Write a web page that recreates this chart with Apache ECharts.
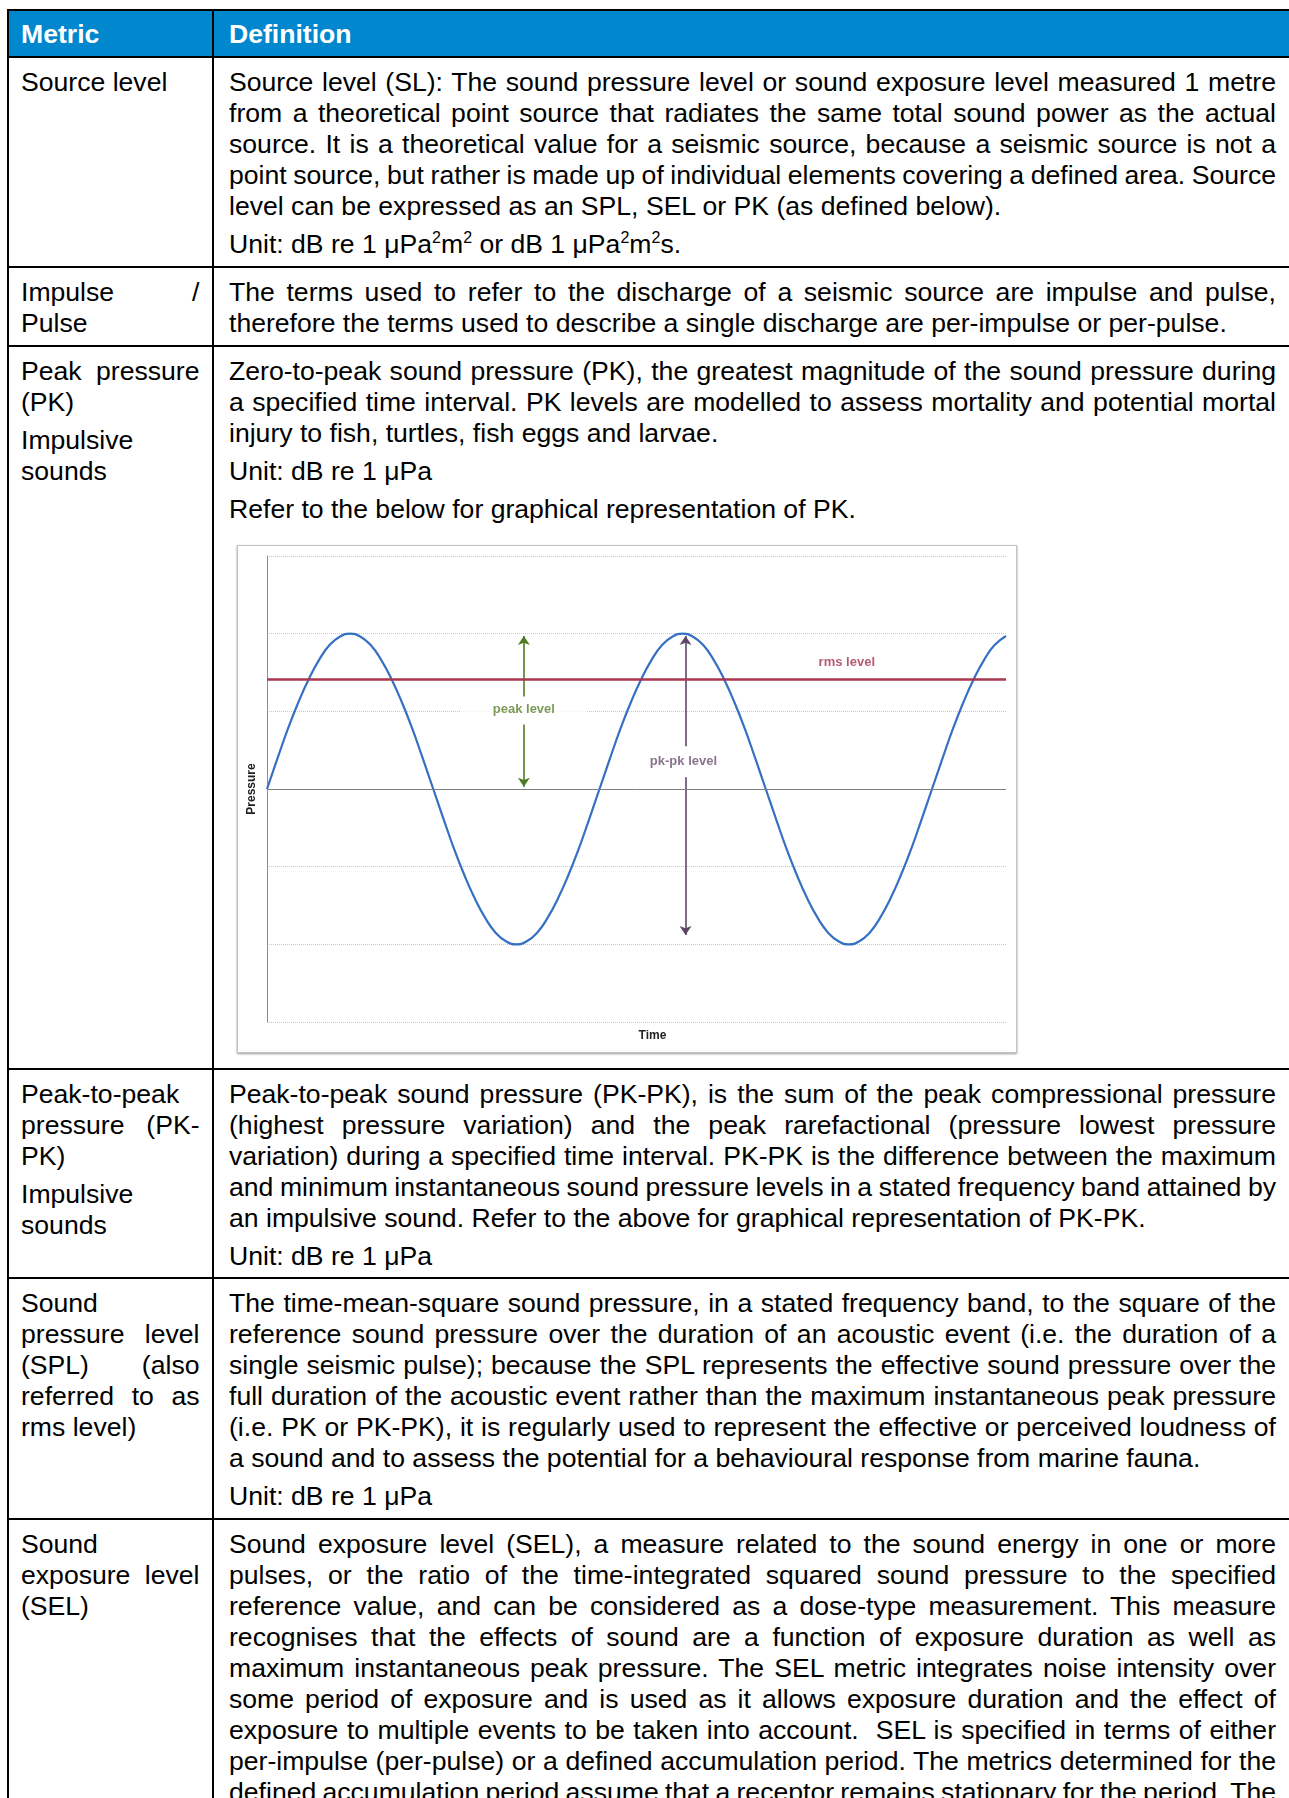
<!DOCTYPE html>
<html><head><meta charset="utf-8">
<script src="https://cdn.jsdelivr.net/npm/echarts@6/dist/echarts.min.js"></script>
<style>
html,body{margin:0;padding:0;background:#fff;width:1289px;height:1798px;overflow:hidden;}
#page{position:relative;width:1289px;height:1798px;font-family:"Liberation Sans",Arial,sans-serif;font-size:26.6px;line-height:31px;color:#000;}
.hl{position:absolute;left:7px;width:1300px;height:2px;background:#000;}
.vl{position:absolute;top:9px;width:2px;height:1800px;background:#000;}
.hdr{position:absolute;left:9px;top:11px;width:1300px;height:45px;background:#0187CE;}
.cell{position:absolute;}
.para{margin:0 0 7px 0;}
.ln{white-space:nowrap;}
.j{text-align:justify;text-align-last:justify;}
.ht{position:absolute;top:19px;color:#fff;font-weight:bold;}
sup{font-size:16px;line-height:0;vertical-align:0;position:relative;top:-10px;}
#chartbox{position:absolute;left:237px;top:545px;width:780px;height:508px;box-sizing:border-box;border:1px solid #c2c2c2;box-shadow:0 1px 2px #9a9a9a;background:#fff;}
#chart{position:absolute;left:0;top:0;width:778px;height:506px;}
</style></head>
<body><div id="page"></div>
<script>
// ---------------- chart data ----------------
const timeVals = [0,0.25,0.5,0.75,1,1.25,1.5,1.75,2,2.25,2.5,2.75,3,3.25,3.5,3.75,
                  4,4.25,4.5,4.75,5,5.25,5.5,5.75,6,6.25,6.5,6.75,7,7.25,7.5,7.75,
                  8,8.25,8.5,8.75,9,9.25,9.5,9.75,10,10.25,10.5,10.75,11,11.25,11.5,11.75,
                  12,12.25,12.5,12.75,13,13.25,13.5,13.75,14,14.25,14.5,14.75,15,15.25,15.5,15.75,
                  16,16.25,16.5,16.75,17,17.25,17.5,17.78];
const pressureVals = [0,0.39,0.77,1.11,1.41,1.66,1.85,1.96,2,1.96,1.85,1.66,1.41,1.11,0.77,0.39,
                      0,-0.39,-0.77,-1.11,-1.41,-1.66,-1.85,-1.96,-2,-1.96,-1.85,-1.66,-1.41,-1.11,-0.77,-0.39,
                      0,0.39,0.77,1.11,1.41,1.66,1.85,1.96,2,1.96,1.85,1.66,1.41,1.11,0.77,0.39,
                      0,-0.39,-0.77,-1.11,-1.41,-1.66,-1.85,-1.96,-2,-1.96,-1.85,-1.66,-1.41,-1.11,-0.77,-0.39,
                      0,0.39,0.77,1.11,1.41,1.66,1.85,1.97];
const rmsLevel = 1.41;
const zeroLevel = 0;
const yMin = -3, yMax = 3, yInterval = 1;
const xMin = 0, xMax = 17.78;
const labelTexts = ['rms level','peak level','pk-pk level'];
const labelTimes = [13.95, 6.18, 10.02];
const labelPressures = [1.635, 1.02, 0.354];
const arrowTimes = [6.18, 6.18, 10.07, 10.07];
const arrowStarts = [1.19, 0.83, 0.55, 0.15];
const arrowEnds = [1.97, 0.03, 1.97, -1.88];
const arrowGroups = ['peak','peak','pkpk','pkpk'];

// ---------------- table text ----------------
const rowLines = [57, 267, 346, 1069, 1278, 1519];
const leftCells = [
  [["Source level"]],
  [["Impulse /","Pulse"]],
  [["Peak pressure","(PK)"],["Impulsive","sounds"]],
  [["Peak-to-peak","pressure (PK-","PK)"],["Impulsive","sounds"]],
  [["Sound","pressure level","(SPL) (also","referred to as","rms level)"]],
  [["Sound","exposure level","(SEL)"]]
];
const rightCells = [
  [["Source level (SL): The sound pressure level or sound exposure level measured 1 metre",
    "from a theoretical point source that radiates the same total sound power as the actual",
    "source. It is a theoretical value for a seismic source, because a seismic source is not a",
    "point source, but rather is made up of individual elements covering a defined area. Source",
    "level can be expressed as an SPL, SEL or PK (as defined below)."],
   ["Unit: dB re 1 μPa<sup>2</sup>m<sup>2</sup> or dB 1 μPa<sup>2</sup>m<sup>2</sup>s."]],
  [["The terms used to refer to the discharge of a seismic source are impulse and pulse,",
    "therefore the terms used to describe a single discharge are per-impulse or per-pulse."]],
  [["Zero-to-peak sound pressure (PK), the greatest magnitude of the sound pressure during",
    "a specified time interval. PK levels are modelled to assess mortality and potential mortal",
    "injury to fish, turtles, fish eggs and larvae."],
   ["Unit: dB re 1 μPa"],
   ["Refer to the below for graphical representation of PK."]],
  [["Peak-to-peak sound pressure (PK-PK), is the sum of the peak compressional pressure",
    "(highest pressure variation) and the peak rarefactional (pressure lowest pressure",
    "variation) during a specified time interval. PK-PK is the difference between the maximum",
    "and minimum instantaneous sound pressure levels in a stated frequency band attained by",
    "an impulsive sound. Refer to the above for graphical representation of PK-PK."],
   ["Unit: dB re 1 μPa"]],
  [["The time-mean-square sound pressure, in a stated frequency band, to the square of the",
    "reference sound pressure over the duration of an acoustic event (i.e. the duration of a",
    "single seismic pulse); because the SPL represents the effective sound pressure over the",
    "full duration of the acoustic event rather than the maximum instantaneous peak pressure",
    "(i.e. PK or PK-PK), it is regularly used to represent the effective or perceived loudness of",
    "a sound and to assess the potential for a behavioural response from marine fauna."],
   ["Unit: dB re 1 μPa"]],
  [["Sound exposure level (SEL), a measure related to the sound energy in one or more",
    "pulses, or the ratio of the time-integrated squared sound pressure to the specified",
    "reference value, and can be considered as a dose-type measurement. This measure",
    "recognises that the effects of sound are a function of exposure duration as well as",
    "maximum instantaneous peak pressure. The SEL metric integrates noise intensity over",
    "some period of exposure and is used as it allows exposure duration and the effect of",
    "exposure to multiple events to be taken into account.&nbsp; SEL is specified in terms of either",
    "per-impulse (per-pulse) or a defined accumulation period. The metrics determined for the",
    "defined accumulation period assume that a receptor remains stationary for the period. The",
    "cumulative SEL is therefore a conservative estimate of exposure over the period."]]
];

const page = document.getElementById('page');
let html = '<div class="hdr"></div>';
html += '<div class="ht" style="left:21px">Metric</div><div class="ht" style="left:229px">Definition</div>';
function cellHtml(paras, x, y, w){
  let s = '<div class="cell" style="left:'+x+'px;top:'+y+'px;width:'+w+'px">';
  paras.forEach(p=>{
    s += '<div class="para">';
    p.forEach((l,i)=>{
      const last = i===p.length-1;
      s += '<div class="ln'+(last?'':' j')+'"><span>'+l+'</span></div>';
    });
    s += '</div>';
  });
  return s+'</div>';
}
rowLines.forEach((y,i)=>{
  html += cellHtml(leftCells[i], 21, y+10, 178.5);
  html += cellHtml(rightCells[i], 229, y+10, 1047);
});
html += '<div class="hl" style="top:9px"></div>';
rowLines.forEach(y=>{ html += '<div class="hl" style="top:'+(y-1)+'px"></div>'; });
html += '<div class="vl" style="left:7px"></div><div class="vl" style="left:212px"></div>';
html += '<div id="chartbox"><div id="chart"></div></div>';
page.innerHTML = html;

// squeeze word spacing on justified lines that are naturally too wide
document.querySelectorAll('.ln.j').forEach(el=>{
  const sp = el.firstChild;
  const boxW = el.clientWidth;
  const natW = sp.getBoundingClientRect().width;
  if (natW > boxW - 0.5) {
    const n = (sp.textContent.match(/\s/g) || []).length;
    if (n > 0) el.style.wordSpacing = (-(natW - boxW + 2) / n) + 'px';
  }
});

// ---------------- chart ----------------
const chart = echarts.init(document.getElementById('chart'), null, {renderer:'canvas'});
const labelColors = ['#A2324C','#5B7F2E','#6B5072'];
const arrowColors = {peak:'#4E7A24', pkpk:'#5E4763'};
const chartFont = '"Liberation Sans", Arial, sans-serif';
chart.setOption({
  animation:false,
  grid:{left:29, top:10, right:10, bottom:30},
  xAxis:{type:'value', min:xMin, max:xMax,
    axisLine:{show:false, onZero:false}, axisTick:{show:false}, axisLabel:{show:false}, splitLine:{show:false},
    name:'Time', nameLocation:'middle', nameGap:8,
    nameTextStyle:{fontFamily:chartFont, fontWeight:'bold', fontSize:12, color:'#222', verticalAlign:'top', padding:[0,0,0,32]}},
  yAxis:{type:'value', min:yMin, max:yMax, interval:yInterval,
    axisLine:{show:true, lineStyle:{color:'#8c8c8c', width:1}}, axisTick:{show:false}, axisLabel:{show:false},
    splitLine:{show:true, lineStyle:{type:'dotted', color:'#c8c8c8', width:1}},
    name:'Pressure', nameLocation:'middle', nameRotate:90, nameGap:9,
    nameTextStyle:{fontFamily:chartFont, fontWeight:'bold', fontSize:12, color:'#222'}},
  series:[
    {type:'line', name:'Pressure', data:timeVals.map((t,i)=>[t,pressureVals[i]]),
     smooth:true, showSymbol:false, symbol:'none', z:3,
     lineStyle:{color:'#3570C2', width:2.2},
     markLine:{silent:true, symbol:['none','none'], label:{show:false}, animation:false,
       data:[
         {yAxis:zeroLevel, lineStyle:{color:'#808080', width:1, type:'solid'}},
         {yAxis:rmsLevel, lineStyle:{color:'#A8374F', width:2.5, type:'solid'}}
       ]}},
    {type:'lines', coordinateSystem:'cartesian2d', z:4, symbol:['none','arrow'], symbolSize:9,
     data:arrowTimes.map((t,i)=>({coords:[[t,arrowStarts[i]],[t,arrowEnds[i]]],
       lineStyle:{color:arrowColors[arrowGroups[i]], width:1.6, opacity:1}}))},
    {type:'scatter', z:5, symbolSize:1, itemStyle:{color:'transparent'}, silent:true,
     data:labelTexts.map((s,i)=>({value:[labelTimes[i],labelPressures[i]], name:s,
       label:{show:true, position:'inside', formatter:s, color:labelColors[i],
         fontFamily:chartFont, fontWeight:'bold', fontSize:13,
         backgroundColor: i===1 ? '#fff' : 'transparent', padding: i===1 ? [3,32] : 0}}))}
  ]
});
</script>
</body></html>
